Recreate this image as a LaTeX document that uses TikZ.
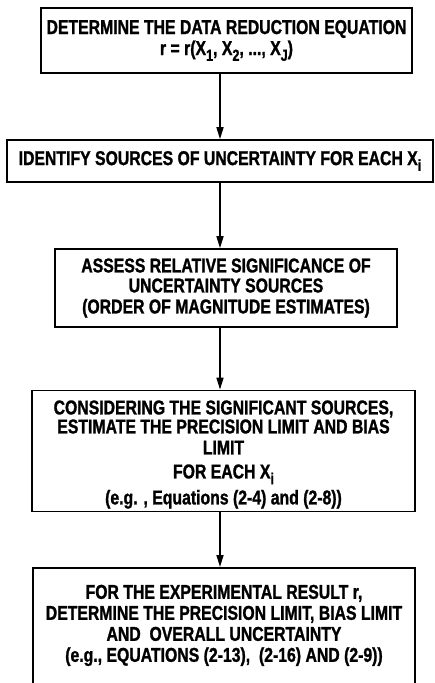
\documentclass[tikz,border=0pt]{standalone}
\usepackage{fontspec}
\setmainfont{Liberation Sans}[FakeStretch=0.79, BoldFeatures={FakeBold=1.2}]
\usetikzlibrary{positioning,arrows.meta}
\newcommand{\lowsub}[1]{\raisebox{-0.55ex}{\fontsize{16}{16}\selectfont #1}}

\begin{document}
\begin{tikzpicture}[x=1pt, y=1pt] %Incertitude
   			\tikzstyle{stepbox} = [rectangle, draw, line width=1.6pt, inner xsep=1pt, inner ysep=3pt, text centered, align=center, font=\fontsize{20}{21}\selectfont\bfseries]
    			\tikzstyle{flow} = [line width=1.6pt, -{Triangle[length=12pt, width=7pt]}]
    			\useasboundingbox (0,0) rectangle (434,-683);
    			\node[stepbox, minimum width=371pt, minimum height=65pt] (B1) at (226.5,-40.5) {DETERMINE THE DATA REDUCTION EQUATION\\ r = r(X\lowsub{1}, X\lowsub{2}, ..., X\lowsub{J})};
    			\node[stepbox, minimum width=426pt, minimum height=42pt] (B2) at (220,-161) {IDENTIFY SOURCES OF UNCERTAINTY FOR EACH X\lowsub{i}};
    			\node[stepbox, minimum width=342pt, minimum height=78pt] (B3) at (226,-288) {ASSESS RELATIVE SIGNIFICANCE OF\\[-1pt] UNCERTAINTY SOURCES\\ (ORDER OF MAGNITUDE ESTIMATES)};
    			\node[stepbox, minimum width=383pt, minimum height=118pt] (B4) at (223.5,-451) {\\[0pt] CONSIDERING THE SIGNIFICANT SOURCES,\\[-2pt] ESTIMATE THE PRECISION LIMIT AND BIAS\\ LIMIT\\[3pt] FOR EACH X\lowsub{i}\\[5pt] (e.g. , Equations (2-4) and (2-8))};
    			\node[stepbox, minimum width=382pt, anchor=north] (B5) at (224,-567) {\\[7pt] FOR THE EXPERIMENTAL RESULT r,\\ DETERMINE THE PRECISION LIMIT, BIAS LIMIT\\ AND\ \ OVERALL UNCERTAINTY\\ (e.g., EQUATIONS (2-13),\ \ (2-16) AND (2-9))\\[30pt]~};
    			\coordinate (ax) at (220,0);
    			\foreach \from/\to in {B1/B2, B2/B3, B3/B4, B4/B5}
    			{
        			\draw[flow] (\from.south -| ax) -- (\to.north -| ax);
    			}
		\end{tikzpicture}
\end{document}
